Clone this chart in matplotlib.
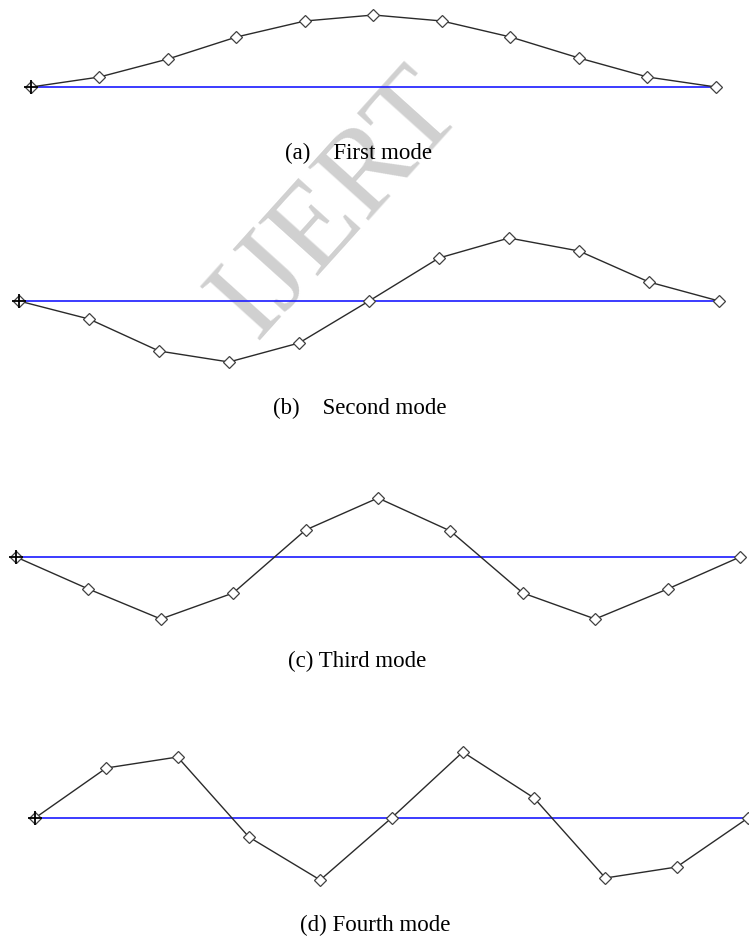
"""Mode shapes of the beam: first four modes drawn over the undeformed axis."""
import matplotlib
matplotlib.use("Agg")
import matplotlib.pyplot as plt
import numpy as np

W, H = 749, 941

# nodal displacements (positive up) for nodes 0..10
nodes = np.arange(11)
mode1 = [0, 10, 28, 50, 66, 72, 66, 50, 29, 10, 0]
mode2 = [0, -18, -50, -61, -42, 0, 43, 63, 50, 19, 0]
mode3 = [0, -32, -62, -36, 27, 59, 26, -36, -62, -32, 0]
mode4 = [0, 50, 61, -19, -62, 0, 66, 20, -60, -49, 0]
captions = ["(a)    First mode", "(b)    Second mode", "(c) Third mode", "(d) Fourth mode"]

# panel placement in pixels: left node, right node, baseline, caption x/y
panels = [
    (mode1, 31, 716, 87, 285, 153),
    (mode2, 19, 719, 301, 273, 408),
    (mode3, 16, 740, 557, 288, 661),
    (mode4, 35, 748, 818, 300, 925),
]

SERIF = ["Liberation Serif", "DejaVu Serif"]
HALF = 85

fig = plt.figure(figsize=(W / 100, H / 100), dpi=100, facecolor="white")

fig.text(338 / W, 1 - 205 / H, "IJERT", family=SERIF, fontsize=88,
         color="#d0d0d0", rotation=48, ha="center", va="center", zorder=-1)

for (shape, x0, x1, base, cx, cy), cap in zip(panels, captions):
    ax = fig.add_axes([x0 / W, 1 - (base + HALF) / H, (x1 - x0) / W, 2 * HALF / H])
    ax.set_xlim(0, 10)
    ax.set_ylim(-HALF, HALF)
    ax.axis("off")
    ax.patch.set_visible(False)

    ax.plot([nodes[0], nodes[-1]], [0, 0], color="#1a1aff", lw=1.2,
            clip_on=False, zorder=2)
    ax.plot(nodes, shape, color="#2a2a2a", lw=1.0, clip_on=False, zorder=3,
            marker="D", ms=6, mfc="white", mec="#404040", mew=0.9)
    ax.plot(nodes[0], shape[0], marker="+", ms=10, mew=1.3, color="black",
            clip_on=False, zorder=4)

    fig.text(cx / W, 1 - cy / H, cap, family=SERIF, fontsize=16.5,
             ha="left", va="center", color="black")

fig.savefig("out.png", dpi=100, facecolor="white")
